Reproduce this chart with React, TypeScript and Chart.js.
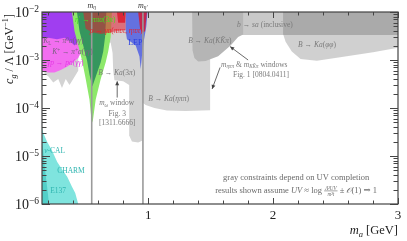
import React, { useEffect, useRef } from 'react';
import { Chart, registerables } from 'chart.js';
Chart.register(...registerables);

const SERIF = "'Liberation Serif', 'DejaVu Serif', serif";

// axes
const X_MIN = 0.15;
const X_MAX = 3;
const Y_MIN = 1e-6;
const Y_MAX = 1e-2;
const xMajorTicks = [1, 2, 3];
const xTickLabels = ['1', '2', '3'];
const xMinorStep = 0.2;
const yDecadeExps = [-6, -5, -4, -3, -2];
const yTickExpLabels = ['\u22126', '\u22125', '\u22124', '\u22123', '\u22122'];
const massLines = [0.548, 0.958];

// excluded regions, [m_a (GeV), c_g/Λ (GeV^-1)]
const bsaBand: [number, number][] = [[1.3, 1e-2], [3, 1e-2], [3, 3.3e-3], [1.3, 3.3e-3]];
const etaPiPi: [number, number][] = [[0.955, 1e-2], [1.496, 1e-2], [1.496, 9e-5], [1.3, 8.7e-5], [1.15, 8.9e-5], [1.05, 1.0e-4], [0.98, 1.15e-4], [0.955, 1.3e-4]];
const kkPi: [number, number][] = [[1.352, 1e-2], [1.76, 1e-2], [1.76, 3.4e-3], [1.72, 3.0e-3], [1.66, 2.0e-3], [1.56, 1.2e-3], [1.46, 9.5e-4], [1.40, 9.3e-4], [1.37, 1.1e-3], [1.355, 1.6e-3]];
const phiPhi: [number, number][] = [[2.08, 1e-2], [3, 1e-2], [3, 1.8e-3], [2.8, 1.45e-3], [2.55, 1.15e-3], [2.35, 9.6e-4], [2.22, 1.05e-3], [2.15, 1.5e-3], [2.1, 2.4e-3], [2.08, 3.5e-3]];
const threePi: [number, number][] = [[0.57, 1e-2], [0.955, 1e-2], [0.955, 2.1e-5], [0.92, 1.9e-5], [0.87, 2.0e-5], [0.85, 2.6e-5], [0.848, 3e-4], [0.80, 3.6e-4], [0.73, 3.8e-4], [0.72, 6e-4], [0.715, 1.4e-3], [0.70, 2.3e-3], [0.62, 2.6e-3], [0.58, 3.5e-3]];
const kDecayGray: [number, number][] = [[0.17, 1.5e-3], [0.44, 1.5e-3], [0.44, 6e-4], [0.40, 4e-4], [0.37, 3.0e-4], [0.34, 4e-4], [0.31, 2.6e-4], [0.28, 4e-4], [0.24, 3.4e-4], [0.2, 4.6e-4], [0.17, 5.2e-4]];
const beamDump: [number, number][] = [[0.15, 4e-5], [0.16, 3e-5], [0.19, 2e-5], [0.23, 1.3e-5], [0.272, 7.5e-6], [0.31, 5.3e-6], [0.352, 3.7e-6], [0.39, 2.3e-6], [0.416, 1.7e-6], [0.44, 1e-6], [0.15, 1e-6]];
const e137: [number, number][] = [[0.15, 2.2e-5], [0.16, 1.3e-5], [0.172, 6e-6], [0.185, 3e-6], [0.198, 1.6e-6], [0.205, 1e-6], [0.15, 1e-6]];
const gammaP: [number, number][] = [[0.15, 3.2e-3], [0.46, 3.2e-3], [0.47, 1.6e-3], [0.44, 1.1e-3], [0.40, 9e-4], [0.36, 7.5e-4], [0.3, 6.2e-4], [0.25, 5.5e-4], [0.2, 5.5e-4], [0.15, 6e-4]];
const kPurple: [number, number][] = [[0.15, 1e-2], [0.432, 1e-2], [0.432, 2.3e-3], [0.41, 2.0e-3], [0.38, 2.4e-3], [0.33, 2.9e-3], [0.27, 2.7e-3], [0.2, 2.9e-3], [0.15, 2.8e-3]];
const greenOuter: [number, number][] = [[0.39, 1e-2], [0.71, 1e-2], [0.70, 3e-3], [0.68, 1.5e-3], [0.66, 9e-4], [0.62, 4e-4], [0.58, 1.5e-4], [0.555, 5e-5], [0.545, 6e-5], [0.53, 1.5e-4], [0.5, 4e-4], [0.47, 1e-3], [0.44, 2e-3], [0.41, 4e-3]];
const greenInner: [number, number][] = [[0.43, 1e-2], [0.665, 1e-2], [0.655, 3e-3], [0.64, 1.5e-3], [0.62, 9e-4], [0.58, 4.5e-4], [0.553, 2.8e-4], [0.53, 5e-4], [0.51, 1e-3], [0.48, 2e-3], [0.45, 4e-3]];
const rhoMain: [number, number][] = [[0.48, 1e-2], [0.82, 1e-2], [0.82, 4.2e-3], [0.76, 4.0e-3], [0.70, 3.8e-3], [0.62, 3.5e-3], [0.55, 3.8e-3], [0.5, 4.5e-3]];
const lep: [number, number][] = [[0.82, 1e-2], [0.995, 1e-2], [0.985, 5e-3], [0.965, 2.5e-3], [0.95, 1.2e-3], [0.94, 6.5e-4], [0.93, 1.2e-3], [0.9, 2.0e-3], [0.86, 2.4e-3], [0.83, 2.7e-3], [0.82, 4e-3]];
const rhoSliverA: [number, number][] = [[0.75, 1e-2], [0.82, 1e-2], [0.815, 6e-3], [0.76, 6e-3]];
const rhoSliverB: [number, number][] = [[0.92, 1e-2], [0.99, 1e-2], [0.975, 4e-3], [0.955, 3.6e-3], [0.935, 4.5e-3]];

// bottom-to-top drawing order
const regions: { data: [number, number][]; color: string }[] = [
  { data: bsaBand, color: '#c9c9c9' },
  { data: etaPiPi, color: '#d3d3d3' },
  { data: kkPi, color: '#b5b5b5' },
  { data: phiPhi, color: 'rgba(100,100,100,0.3)' },
  { data: threePi, color: '#d3d3d3' },
  { data: kDecayGray, color: '#d3d3d3' },
  { data: beamDump, color: '#7fe4de' },
  { data: e137, color: '#52cfc8' },
  { data: gammaP, color: '#f26ef0' },
  { data: kPurple, color: '#a03ef0' },
  { data: greenOuter, color: '#8de86a' },
  { data: greenInner, color: '#35965e' },
  { data: rhoMain, color: 'rgba(225,30,50,0.55)' },
  { data: lep, color: 'rgba(40,60,230,0.65)' },
  { data: rhoSliverA, color: 'rgba(220,20,40,0.8)' },
  { data: rhoSliverB, color: 'rgba(220,20,40,0.8)' },
];

type Seg = { t?: string; it?: boolean; sub?: boolean; sup?: boolean; num?: string; den?: string };
const R = (t: string): Seg => ({ t });
const I = (t: string): Seg => ({ t, it: true });
const Sb = (t: string, it = true): Seg => ({ t, it, sub: true });
const Sp = (t: string, it = false): Seg => ({ t, it, sup: true });

const GRAYTXT = '#7a7a7a';
const labels: { segs: Seg[]; x: number; y: number; size: number; color: string; align: 'left' | 'center' | 'right' }[] = [
  { segs: [I('\u03b7'), R('\u2032 \u2192 '), I('\u03c0\u03c0a'), R('(3'), I('\u03c0'), R(')')], x: 0.576, y: 7.1e-3, size: 7.5, color: '#44e022', align: 'center' },
  { segs: [I('\u03c1'), R(' \u2192 '), I('\u03b3a'), R('('), I('\u03c0\u03c0\u03c0'), R(', '), I('\u03b7\u03c0\u03c0'), R(')')], x: 0.744, y: 4.2e-3, size: 7.5, color: '#e8202a', align: 'center' },
  { segs: [I('K'), Sb('L', false), R(' \u2192 '), I('\u03c0'), Sp('0'), I('a'), R('('), I('\u03b3\u03b3'), R(')')], x: 0.16, y: 2.5e-3, size: 7.5, color: '#7a6080', align: 'left' },
  { segs: [I('K'), Sp('+'), R(' \u2192 '), I('\u03c0'), Sp('+'), I('a'), R('('), I('\u03b3\u03b3'), R(')')], x: 0.232, y: 1.47e-3, size: 7.5, color: '#7a6080', align: 'left' },
  { segs: [I('\u03b3p'), R(' \u2192 '), I('pa'), R('('), I('\u03b3\u03b3'), R(')')], x: 0.192, y: 8.7e-4, size: 7.5, color: '#e536e5', align: 'left' },
  { segs: [I('B'), R(' \u2192 '), I('Ka'), R('(3'), I('\u03c0'), R(')')], x: 0.6, y: 5.6e-4, size: 7.5, color: GRAYTXT, align: 'left' },
  { segs: [R('LEP')], x: 0.84, y: 2.3e-3, size: 8, color: '#2a3fe0', align: 'left' },
  { segs: [I('m'), Sb('\u03c9'), R(' window')], x: 0.748, y: 1.27e-4, size: 7.5, color: GRAYTXT, align: 'center' },
  { segs: [R('Fig. 3')], x: 0.752, y: 7.8e-5, size: 7.5, color: GRAYTXT, align: 'center' },
  { segs: [R('[1311.6666]')], x: 0.752, y: 4.9e-5, size: 7.5, color: GRAYTXT, align: 'center' },
  { segs: [I('B'), R(' \u2192 '), I('Ka'), R('('), I('\u03b7\u03c0\u03c0'), R(')')], x: 1.0, y: 1.54e-4, size: 7.5, color: GRAYTXT, align: 'left' },
  { segs: [I('B'), R(' \u2192 '), I('Ka'), R('('), I('KK\u0304\u03c0'), R(')')], x: 1.32, y: 2.6e-3, size: 7.5, color: GRAYTXT, align: 'left' },
  { segs: [I('b'), R(' \u2192 '), I('sa'), R(' (inclusive)')], x: 1.712, y: 5.6e-3, size: 7.5, color: GRAYTXT, align: 'left' },
  { segs: [I('B'), R(' \u2192 '), I('Ka'), R('('), I('\u03c6\u03c6'), R(')')], x: 2.2, y: 2.15e-3, size: 7.5, color: GRAYTXT, align: 'left' },
  { segs: [I('m'), Sb('\u03b7\u03c0\u03c0'), R(' & '), I('m'), Sb('KK\u0304\u03c0'), R(' windows')], x: 1.584, y: 8.2e-4, size: 7.5, color: GRAYTXT, align: 'left' },
  { segs: [R('Fig. 1 [0804.0411]')], x: 1.68, y: 4.9e-4, size: 7.5, color: GRAYTXT, align: 'left' },
  { segs: [I('\u03bd'), R('-CAL')], x: 0.168, y: 1.33e-5, size: 7.5, color: '#2fb5b0', align: 'left' },
  { segs: [R('CHARM')], x: 0.272, y: 5.1e-6, size: 7.5, color: '#2fb5b0', align: 'left' },
  { segs: [R('E137')], x: 0.216, y: 1.9e-6, size: 7.5, color: '#2fb5b0', align: 'left' },
  { segs: [R('gray constraints depend on UV completion')], x: 1.6, y: 3.65e-6, size: 8.5, color: '#6a6a6a', align: 'left' },
  { segs: [R('results shown assume '), I('UV'), R(' \u2248 log '), { num: '\u039b\u00b2UV', den: 'm\u00b2t', it: true }, R(' \u00b1 '), I('\ud835\udcaa'), R('(1) \u21d2 1')], x: 1.536, y: 1.9e-6, size: 8.5, color: '#6a6a6a', align: 'left' },
];

const arrows: { x1: number; y1: number; x2: number; y2: number }[] = [
  { x1: 0.752, y1: 1.65e-4, x2: 0.752, y2: 3.6e-4 },
  { x1: 1.8, y1: 1.0e-3, x2: 1.656, y2: 1.9e-3 },
  { x1: 1.576, y1: 7.0e-4, x2: 1.512, y2: 2.5e-4 },
];

function segFont(s: Seg, size: number) {
  const sz = s.num !== undefined ? size * 0.6 : s.sub || s.sup ? size * 0.68 : size;
  return `${s.it ? 'italic ' : ''}${sz.toFixed(2)}px ${SERIF}`;
}
function segWidth(ctx: CanvasRenderingContext2D, s: Seg, size: number) {
  ctx.font = segFont(s, size);
  if (s.num !== undefined) return Math.max(ctx.measureText(s.num).width, ctx.measureText(s.den || '').width) + 2;
  return ctx.measureText(s.t || '').width;
}
function drawRich(ctx: CanvasRenderingContext2D, segs: Seg[], x: number, y: number, size: number, color: string, align: string) {
  let w = 0;
  for (const s of segs) w += segWidth(ctx, s, size);
  let cx = align === 'center' ? x - w / 2 : align === 'right' ? x - w : x;
  ctx.fillStyle = color;
  ctx.strokeStyle = color;
  ctx.textBaseline = 'alphabetic';
  for (const s of segs) {
    const sw = segWidth(ctx, s, size);
    if (s.num !== undefined) {
      ctx.textAlign = 'center';
      ctx.fillText(s.num, cx + sw / 2, y - size * 0.45);
      ctx.fillText(s.den || '', cx + sw / 2, y + size * 0.35);
      ctx.lineWidth = 0.6;
      ctx.beginPath();
      ctx.moveTo(cx, y - size * 0.3);
      ctx.lineTo(cx + sw, y - size * 0.3);
      ctx.stroke();
    } else {
      ctx.textAlign = 'left';
      const dy = s.sub ? size * 0.22 : s.sup ? -size * 0.38 : 0;
      ctx.fillText(s.t || '', cx, y + dy);
    }
    cx += sw;
  }
  ctx.textAlign = 'left';
}

const overlay = {
  id: 'overlay',
  afterDatasetsDraw(chart: any) {
    const ctx: CanvasRenderingContext2D = chart.ctx;
    const xs = chart.scales.x;
    const ys = chart.scales.y;
    const { left, right, top, bottom } = chart.chartArea;
    ctx.save();
    // mass lines
    ctx.strokeStyle = '#9a9a9a';
    ctx.lineWidth = 1.6;
    for (const m of massLines) {
      const px = xs.getPixelForValue(m);
      ctx.beginPath();
      ctx.moveTo(px, top);
      ctx.lineTo(px, bottom);
      ctx.stroke();
    }
    drawRich(ctx, [I('m'), Sb('\u03b7')], xs.getPixelForValue(massLines[0]), 7.5, 8, '#333', 'center');
    drawRich(ctx, [I('m'), Sb('\u03b7\u2032')], xs.getPixelForValue(massLines[1]), 7.5, 8, '#333', 'center');

    // arrows
    ctx.strokeStyle = '#444';
    ctx.fillStyle = '#444';
    ctx.lineWidth = 0.8;
    for (const a of arrows) {
      const x1 = xs.getPixelForValue(a.x1), y1 = ys.getPixelForValue(a.y1);
      const x2 = xs.getPixelForValue(a.x2), y2 = ys.getPixelForValue(a.y2);
      ctx.beginPath();
      ctx.moveTo(x1, y1);
      ctx.lineTo(x2, y2);
      ctx.stroke();
      const ang = Math.atan2(y2 - y1, x2 - x1);
      const L = 4, W = 2;
      ctx.beginPath();
      ctx.moveTo(x2, y2);
      ctx.lineTo(x2 - L * Math.cos(ang) + W * Math.sin(ang), y2 - L * Math.sin(ang) - W * Math.cos(ang));
      ctx.lineTo(x2 - L * Math.cos(ang) - W * Math.sin(ang), y2 - L * Math.sin(ang) + W * Math.cos(ang));
      ctx.closePath();
      ctx.fill();
    }

    // labels
    for (const l of labels) {
      drawRich(ctx, l.segs, xs.getPixelForValue(l.x), ys.getPixelForValue(l.y) + l.size * 0.33, l.size, l.color, l.align);
    }

    // frame
    ctx.strokeStyle = '#444';
    ctx.lineWidth = 1.2;
    ctx.strokeRect(left, top, right - left, bottom - top);

    // x ticks
    ctx.lineWidth = 1;
    for (let k = 1; k * xMinorStep <= X_MAX + 1e-9; k++) {
      const v = k * xMinorStep;
      if (v < X_MIN) continue;
      const px = Math.round(xs.getPixelForValue(v)) + 0.5;
      const major = xMajorTicks.some((t) => Math.abs(t - v) < 1e-6);
      const len = major ? 6 : 3.5;
      ctx.beginPath();
      ctx.moveTo(px, bottom);
      ctx.lineTo(px, bottom - len);
      ctx.moveTo(px, top);
      ctx.lineTo(px, top + len);
      ctx.stroke();
    }
    // y ticks
    for (let i = 0; i < yDecadeExps.length; i++) {
      const e = yDecadeExps[i];
      for (let m = 1; m <= 9; m++) {
        const v = m * Math.pow(10, e);
        if (v > Y_MAX * 1.0001) break;
        const py = Math.round(ys.getPixelForValue(v)) + 0.5;
        const len = m === 1 ? 8 : 4.5;
        ctx.beginPath();
        ctx.moveTo(left, py);
        ctx.lineTo(left + len, py);
        ctx.moveTo(right, py);
        ctx.lineTo(right - len, py);
        ctx.stroke();
      }
    }

    // tick labels
    for (let i = 0; i < xMajorTicks.length; i++) {
      drawRich(ctx, [R(xTickLabels[i])], xs.getPixelForValue(xMajorTicks[i]), bottom + 15, 13, '#222', 'center');
    }
    for (let i = 0; i < yDecadeExps.length; i++) {
      const py = ys.getPixelForValue(Math.pow(10, yDecadeExps[i]));
      drawRich(ctx, [R('10'), Sp(yTickExpLabels[i])], left - 3, py + 5, 14, '#222', 'right');
    }
    // axis titles
    drawRich(ctx, [I('m'), Sb('a'), R(' [GeV]')], right, bottom + 30, 12.5, '#222', 'right');
    ctx.save();
    ctx.translate(13, 49);
    ctx.rotate(-Math.PI / 2);
    drawRich(ctx, [I('c'), Sb('g'), R(' / \u039b [GeV'), Sp('\u22121'), R(']')], 0, 0, 12, '#222', 'center');
    ctx.restore();

    ctx.restore();
  },
};

export default function App() {
  const ref = useRef<HTMLCanvasElement | null>(null);
  useEffect(() => {
    if (!ref.current) return;
    const chart = new Chart(ref.current, {
      type: 'scatter',
      data: {
        datasets: regions.map((r, i) => ({
          data: r.data.map(([x, y]) => ({ x, y })),
          showLine: true,
          fill: 'shape',
          backgroundColor: r.color,
          borderColor: 'rgba(0,0,0,0)',
          borderWidth: 0,
          pointRadius: 0,
          pointHoverRadius: 0,
          tension: 0,
          order: regions.length - i,
        })),
      } as any,
      options: {
        animation: false,
        responsive: false,
        maintainAspectRatio: false,
        events: [],
        layout: { padding: { left: 42, top: 12, right: 9, bottom: 37 } },
        plugins: { legend: { display: false }, tooltip: { enabled: false } },
        scales: {
          x: { type: 'linear', min: X_MIN, max: X_MAX, display: false },
          y: { type: 'logarithmic', min: Y_MIN, max: Y_MAX, display: false },
        },
      } as any,
      plugins: [overlay],
    });
    return () => chart.destroy();
  }, []);
  return (
    <div style={{ position: 'fixed', left: 0, top: 0, width: 407, height: 241, background: '#fff' }}>
      <canvas ref={ref} width={407} height={241} style={{ display: 'block' }} />
    </div>
  );
}
